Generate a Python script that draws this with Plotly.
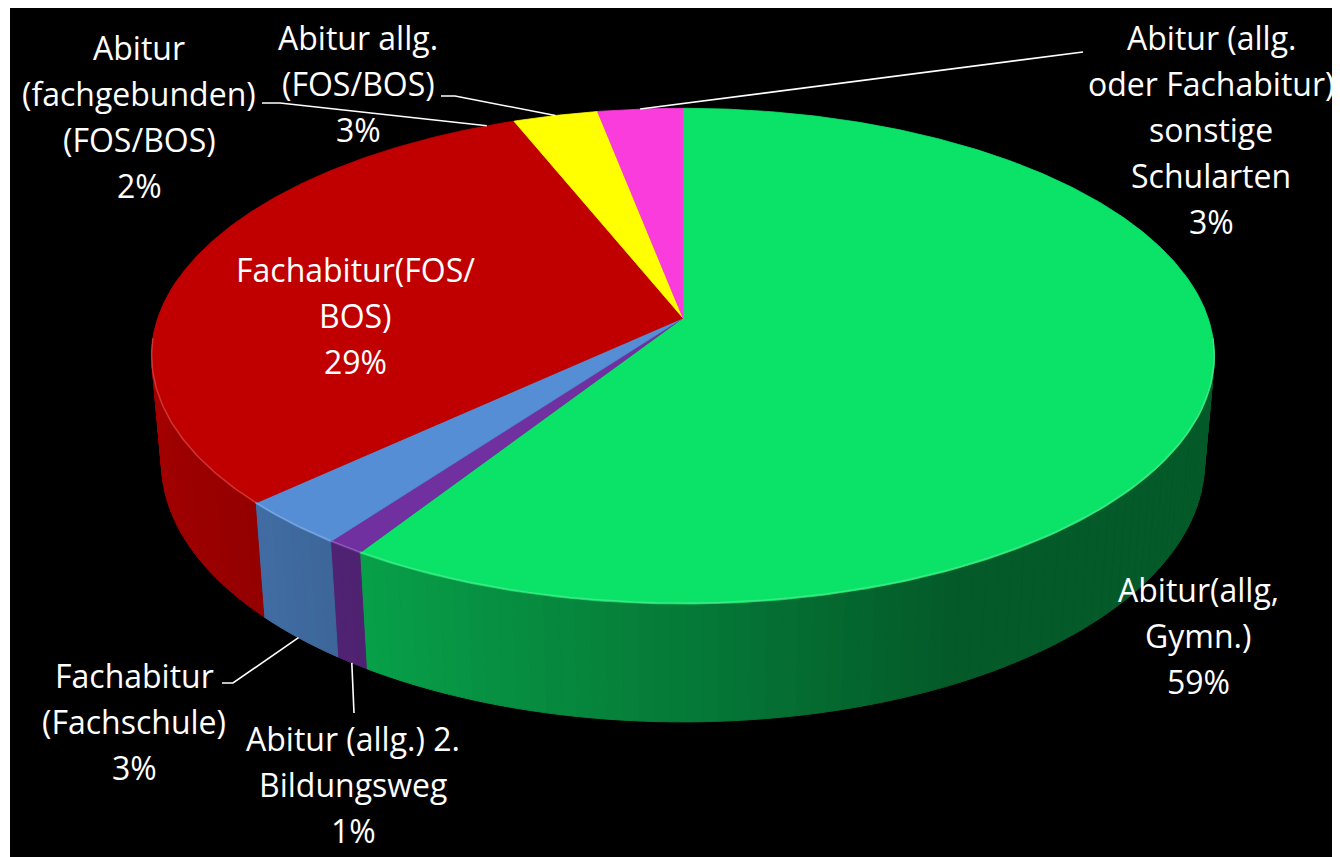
import numpy as np
import plotly.graph_objects as go

# ---------------- data ----------------
categories = [
    "Abitur(allg, Gymn.)",
    "Abitur (allg.) 2. Bildungsweg",
    "Fachabitur (Fachschule)",
    "Fachabitur(FOS/BOS)",
    "Abitur (fachgebunden) (FOS/BOS)",
    "Abitur allg. (FOS/BOS)",
    "Abitur (allg. oder Fachabitur) sonstige Schularten",
]
values = [59, 1, 3, 29, 2, 3, 3]
label_lines = [
    ["Abitur(allg,", "Gymn.)"],
    ["Abitur (allg.) 2.", "Bildungsweg"],
    ["Fachabitur", "(Fachschule)"],
    ["Fachabitur(FOS/", "BOS)"],
    ["Abitur", "(fachgebunden)", "(FOS/BOS)"],
    ["Abitur allg.", "(FOS/BOS)"],
    ["Abitur (allg.", "oder Fachabitur)", "sonstige", "Schularten"],
]
colors = ["#0BE368", "#7030A0", "#558ED5", "#C00000", "#C00000", "#FFFF00", "#FA3CDC"]

# ---------------- layout / geometry constants ----------------
CX, CY, S = 683, 318, 3024          # pie vertex on screen, projection scale
D, SINP, COSP, H = 5.76, 0.461, 0.887, 0.23   # camera distance, tilt, pie thickness
FONT = "Open Sans"
FSIZE = 32
LINE_GAP = 46

# first-line position (x center, y center) of each label
label_pos = [(1198, 589), (353, 738), (134, 675), (355, 269), (139, 47), (358, 37), (1211, 37)]
# leader line elbow points (from the label side), None when label sits on the slice
leader_pts = [None, [(354, 713)], [(233, 683), (222, 683)], None,
              [(280, 103), (262, 103)], [(455, 96), (441, 96)], [(1083, 52)]]
leader_level = [0, 1, 1, 0, 0, 0, 0]   # 0 = top rim, 1 = bottom rim


def proj(t_deg, level):
    t = np.radians(t_deg)
    X = np.sin(t)
    Z = -np.cos(t)
    hh = H * level
    depth = D + hh * SINP - Z * COSP
    x = CX + S * X / depth
    y = CY + S * (hh * COSP + Z * SINP) / depth
    return x, y


def hex2rgb(h):
    h = h.lstrip("#")
    return [int(h[i:i + 2], 16) for i in (0, 2, 4)]


def shade(h, f):
    r, g, b = hex2rgb(h)
    return "rgb(%d,%d,%d)" % (min(255, r * f), min(255, g * f), min(255, b * f))


def lighten(h, a):
    r, g, b = hex2rgb(h)
    return "rgb(%d,%d,%d)" % (r + (255 - r) * a, g + (255 - g) * a, b + (255 - b) * a)


total = float(sum(values))
cum = np.concatenate([[0], np.cumsum(values)]) / total * 360.0

fig = go.Figure()

# ---- side faces (front, visible part) ----
for i, v in enumerate(values):
    a0, a1 = max(cum[i], 80), min(cum[i + 1], 280)
    if a1 <= a0:
        continue
    n = max(1, int(np.ceil((a1 - a0) / 1.5)))
    edges = np.linspace(a0, a1, n + 1)
    for k in range(n):
        t0, t1 = edges[k], edges[k + 1]
        tm = 0.5 * (t0 + t1)
        f = float(np.clip(0.54 - 0.315 * np.sin(np.radians(tm)), 0.40, 0.9))
        ts = np.linspace(t0, t1, 4)
        xt, yt = proj(ts, 0)
        xb, yb = proj(ts[::-1], 1)
        xs = np.concatenate([xt, xb, xt[:1]])
        ys = np.concatenate([yt, yb, yt[:1]])
        c = shade(colors[i], f)
        fig.add_trace(go.Scatter(x=xs, y=ys, mode="lines", fill="toself",
                                 fillcolor=c, line=dict(color=c, width=1),
                                 hoverinfo="skip", showlegend=False))

# ---- top faces ----
for i, v in enumerate(values):
    ts = np.linspace(cum[i], cum[i + 1], max(3, int((cum[i + 1] - cum[i]) / 0.5)))
    xr, yr = proj(ts, 0)
    xs = np.concatenate([[CX], xr, [CX]])
    ys = np.concatenate([[CY], yr, [CY]])
    fig.add_trace(go.Scatter(x=xs, y=ys, mode="lines", fill="toself",
                             fillcolor=colors[i], line=dict(color=colors[i], width=0.8),
                             name=categories[i], hoverinfo="name", showlegend=False))

# ---- rim highlight on the front edge ----
for i, v in enumerate(values):
    a0, a1 = max(cum[i], 95), min(cum[i + 1], 265)
    if a1 <= a0:
        continue
    ts = np.linspace(a0, a1, 60)
    xr, yr = proj(ts, 0)
    fig.add_trace(go.Scatter(x=xr, y=yr - 1, mode="lines",
                             line=dict(color=lighten(colors[i], 0.3), width=1.5),
                             opacity=0.7, hoverinfo="skip", showlegend=False))

# ---- leader lines ----
for i, pts in enumerate(leader_pts):
    if pts is None:
        continue
    tm = 0.5 * (cum[i] + cum[i + 1])
    x0, y0 = proj(tm, leader_level[i])
    xs = [x0] + [p[0] for p in pts]
    ys = [y0] + [p[1] for p in pts]
    fig.add_trace(go.Scatter(x=xs, y=ys, mode="lines",
                             line=dict(color="white", width=1.6),
                             hoverinfo="skip", showlegend=False))

# ---- labels ----
for i, v in enumerate(values):
    lines = label_lines[i] + ["%d%%" % v]
    x, y = label_pos[i]
    for j, txt in enumerate(lines):
        fig.add_annotation(x=x, y=y + j * LINE_GAP, text=txt, showarrow=False,
                           xanchor="center", yanchor="middle",
                           font=dict(family=FONT, size=FSIZE, color="white"))

# page body has an 8px margin: size the figure so that axis units equal page pixels
fig.update_layout(
    width=1332, height=849,
    margin=dict(l=2, r=0, t=0, b=0),
    paper_bgcolor="white", plot_bgcolor="black",
    xaxis=dict(range=[10, 1340], visible=False, fixedrange=True),
    yaxis=dict(range=[857, 8], visible=False, fixedrange=True),
    showlegend=False,
)

fig.write_html("out.html", config={"displayModeBar": False})
